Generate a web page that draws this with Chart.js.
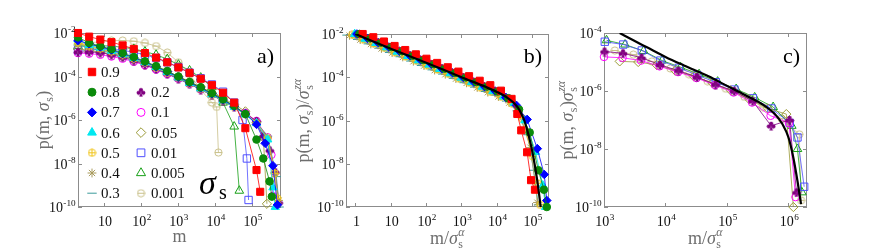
<!DOCTYPE html>
<html><head><meta charset="utf-8">
<script src="https://cdn.jsdelivr.net/npm/chart.js@4.4.1/dist/chart.umd.min.js"></script>
<style>
html,body{margin:0;padding:0;background:#fff;width:872px;height:251px;overflow:hidden}
canvas{position:absolute;top:0}
</style></head><body>
<canvas id="ca" width="290" height="251" style="left:0px"></canvas>
<canvas id="cb" width="290" height="251" style="left:290px"></canvas>
<canvas id="cc" width="327" height="251" style="left:545px"></canvas>
<script>
// ---------------- DATA ----------------
const sigmaLabels = ['0.9','0.8','0.7','0.6','0.5','0.4','0.3','0.2','0.1','0.05','0.01','0.005','0.001'];

// panel a) : p(m, sigma_s) vs m
const mBins = [2,4,8,16,32,64,128,256,512,1024,2048,4096,8192,16384,32768,65536,131072,262144];
const pA09 = [1.0e-2,6.8e-3,5.0e-3,3.8e-3,2.7e-3,1.86e-3,1.2e-3,7.4e-4,4.5e-4,2.6e-4,1.48e-4,7.9e-5,4.0e-5,1.8e-5,6.3e-6];
const tailA09 = [[65536,4.2e-7],[131072,5.0e-9],[165000,5.0e-10]];
const pA08 = [6.3e-3,3.5e-3,2.5e-3,1.8e-3,1.2e-3,7.9e-4,5.0e-4,3.0e-4,1.8e-4,1.0e-4,5.6e-5,3.2e-5,1.7e-5,8.9e-6,4.5e-6,1.9e-6,1.26e-7];
const tailA08 = [[200000,1.7e-8],[295000,1.5e-9],[340000,3.0e-10]];
const pA07 = [4.5e-3,3.2e-3,2.3e-3,1.66e-3,1.12e-3,7.4e-4,4.7e-4,2.8e-4,1.66e-4,9.3e-5,5.2e-5,3.0e-5,1.6e-5,8.3e-6,4.2e-6,1.9e-6,6.3e-7];
const tailA07 = [[224000,8.5e-8],[363000,7.9e-9],[480000,1.26e-10]];
const pA06 = [5.0e-3,2.8e-3,2.1e-3,1.5e-3,1.05e-3,7.1e-4,4.5e-4,2.7e-4,1.6e-4,8.9e-5,5.0e-5,2.8e-5,1.5e-5,7.9e-6,4.0e-6,1.8e-6,7.1e-7,1.26e-7];
const tailA06 = [[363000,7.9e-10],[420000,1.0e-10]];
const pA05 = [3.5e-3,2.5e-3,1.9e-3,1.4e-3,1.0e-3,6.8e-4,4.4e-4,2.7e-4,1.6e-4,8.9e-5,5.0e-5,2.75e-5,1.48e-5,7.9e-6,4.0e-6,1.8e-6,7.1e-7,1.4e-7];
const tailA05 = [[400000,3.5e-9],[480000,2.5e-10]];
const pA04 = [3.2e-3,2.4e-3,1.8e-3,1.3e-3,9.3e-4,6.3e-4,4.2e-4,2.5e-4,1.48e-4,8.5e-5,4.8e-5,2.7e-5,1.48e-5,7.9e-6,4.0e-6,1.86e-6,7.6e-7,1.6e-7];
const tailA04 = [[420000,3.5e-9],[520000,2.0e-10]];
const pA03 = [2.8e-3,2.1e-3,1.6e-3,1.2e-3,8.5e-4,5.9e-4,3.8e-4,2.3e-4,1.4e-4,7.9e-5,4.6e-5,2.5e-5,1.38e-5,7.4e-6,3.8e-6,1.8e-6,7.6e-7,1.8e-7];
const tailA03 = [[450000,2.5e-9],[540000,1.0e-10]];
const pA02 = [1.35e-3,1.35e-3,1.26e-3,1.0e-3,7.6e-4,5.4e-4,3.5e-4,2.2e-4,1.35e-4,7.9e-5,4.5e-5,2.5e-5,1.4e-5,7.6e-6,4.0e-6,2.0e-6,8.9e-7];
const tailA02 = [[200000,1.8e-7],[300000,4.0e-8],[420000,4.0e-9],[520000,1.6e-10]];
const pA01 = [1.2e-3,1.12e-3,1.0e-3,8.3e-4,6.6e-4,4.8e-4,3.3e-4,2.1e-4,1.3e-4,7.9e-5,4.6e-5,2.6e-5,1.48e-5,7.9e-6,4.2e-6,2.1e-6,8.9e-7,1.6e-7];
const tailA01 = [[330000,2.5e-8],[360000,3.2e-10]];
const pA005 = [1.8e-3,1.6e-3,1.3e-3,1.07e-3,8.3e-4,6.0e-4,4.2e-4,2.7e-4,1.66e-4,1.0e-4,5.8e-5,3.3e-5,1.8e-5,1.0e-5,5.2e-6,2.5e-6,7.9e-7];
const tailA005 = [[200000,1.6e-7],[250000,1.4e-10]];
const pA001 = [1.6e-3,1.66e-3,1.8e-3,1.8e-3,1.6e-3,1.3e-3,1.0e-3,7.1e-4,4.5e-4,2.7e-4,1.5e-4,8.3e-5,4.3e-5,2.0e-5,6.3e-6];
const tailA001 = [[55000,1.0e-6],[72000,1.7e-8],[80000,2.1e-10]];
const pA0005 = [2.5e-3,2.6e-3,2.6e-3,2.5e-3,2.2e-3,1.86e-3,1.4e-3,1.0e-3,6.3e-4,3.5e-4,1.9e-4,8.9e-5,3.2e-5,6.3e-6];
const tailA0005 = [[32768,5.0e-7],[45000,5.6e-10]];
const pA0001 = [3.2e-3,3.5e-3,4.0e-3,4.5e-3,4.5e-3,4.2e-3,3.5e-3,2.5e-3,1.26e-3,4.5e-4,1.26e-4,2.5e-5,6.3e-6];
const tailA0001 = [[11000,4.0e-6],[12300,3.2e-8]];

// panel b) : p/sigma^{z alpha} vs m/sigma^alpha  (sigma_s = 0.9 ... 0.3)
const xB09 = [1.6,3.2,6.4,12.8,25.6,51.2,102,205,410,819,1640,3280,6550,13100,26200,38000,49000,72000,93000,120000];
const pB09 = [1.0e-2,7.1e-3,4.5e-3,2.8e-3,1.82e-3,1.15e-3,7.2e-4,4.6e-4,2.9e-4,1.82e-4,1.12e-4,6.9e-5,4.3e-5,2.4e-5,1.0e-5,2.0e-6,3.5e-7,3.4e-8,1.74e-9,6.3e-10];
const xB08 = [1.3,2.6,5.2,10.4,20.8,41.6,83.2,166,333,666,1330,2660,5320,10600,21300,42600,85200,150000,215000,260000];
const pB08 = [1.0e-2,6.3e-3,4.0e-3,2.5e-3,1.6e-3,1.0e-3,6.3e-4,4.0e-4,2.5e-4,1.6e-4,9.8e-5,6.0e-5,3.7e-5,2.2e-5,1.07e-5,3.2e-6,2.8e-7,5.0e-9,6.3e-10,1.0e-10];
const xB07 = [1.1,2.2,4.4,8.8,17.6,35.2,70.4,141,282,563,1130,2250,4510,9010,18000,36000,72100,140000,220000,260000];
const pB07 = [1.0e-2,6.3e-3,4.0e-3,2.5e-3,1.6e-3,1.0e-3,6.3e-4,4.0e-4,2.5e-4,1.6e-4,9.8e-5,6.0e-5,3.7e-5,2.3e-5,1.17e-5,5.0e-6,1.12e-6,5.0e-8,3.2e-9,2.0e-10];
const xB06 = [0.95,1.9,3.8,7.6,15.2,30.4,60.8,122,243,486,973,1950,3890,7780,15600,31100,62300,125000,200000,240000];
const pB06 = [1.0e-2,6.0e-3,3.8e-3,2.4e-3,1.51e-3,9.5e-4,6.0e-4,3.8e-4,2.4e-4,1.51e-4,9.5e-5,5.9e-5,3.6e-5,2.24e-5,1.26e-5,6.3e-6,1.0e-6,3.5e-8,1.0e-9,1.0e-10];
const xB05 = [0.8,1.6,3.2,6.4,12.8,25.6,51.2,102,205,410,819,1640,3280,6550,13100,26200,52400,105000,140000,170000];
const pB05 = [9.1e-3,5.8e-3,3.6e-3,2.3e-3,1.45e-3,9.1e-4,5.8e-4,3.6e-4,2.3e-4,1.45e-4,9.1e-5,5.6e-5,3.5e-5,2.1e-5,1.26e-5,6.3e-6,1.26e-6,2.2e-8,1.26e-9,1.26e-10];
const xB04 = [0.68,1.36,2.72,5.44,10.9,21.8,43.5,87,174,348,696,1390,2790,5570,11100,22300,44600,89100,120000,140000];
const pB04 = [8.5e-3,5.4e-3,3.4e-3,2.1e-3,1.35e-3,8.5e-4,5.4e-4,3.4e-4,2.1e-4,1.35e-4,8.5e-5,5.4e-5,3.3e-5,2.0e-5,1.26e-5,6.6e-6,1.8e-6,5.6e-8,1.6e-9,1.6e-10];
const xB03 = [0.57,1.14,2.28,4.56,9.12,18.2,36.5,73,146,292,584,1170,2330,4670,9340,18700,37300,74700,110000,150000];
const pB03 = [8.9e-3,5.6e-3,3.5e-3,2.2e-3,1.4e-3,8.9e-4,5.6e-4,3.5e-4,2.2e-4,1.4e-4,8.9e-5,5.6e-5,3.5e-5,2.2e-5,1.48e-5,7.9e-6,2.8e-6,2.2e-7,5.0e-9,1.26e-10];
const xBfit = [1,10,100,1000,5000,1e4,2e4,3e4,4e4,5e4,6e4,8e4,1e5,1.2e5,1.4e5,1.6e5,1.8e5];
const pBfit = [1.0e-2,2.1e-3,4.7e-4,1.0e-4,3.5e-5,2.1e-5,1.12e-5,6.6e-6,3.8e-6,2.0e-6,1.0e-6,2.0e-7,4.0e-8,7.9e-9,1.6e-9,3.2e-10,6.3e-11];

// panel c) : p*sigma^{z alpha} vs m/sigma^alpha  (sigma_s = 0.2 ... 0.001)
const xC02 = [1020,2040,4080,8160,16300,32600,65300,131000,261000,522000,1040000,1350000];
const pC02 = [2.3e-5,2.0e-5,1.4e-5,7.9e-6,5.0e-6,3.0e-6,1.66e-6,1.0e-6,4.5e-7,6.3e-8,1.0e-7,3.2e-10];
const xC01 = [1000,2000,4000,8000,16000,32000,64000,128000,256000,512000,1020000,1300000];
const pC01 = [1.5e-5,1.4e-5,1.12e-5,7.1e-6,4.5e-6,2.8e-6,1.6e-6,8.9e-7,4.0e-7,1.4e-7,7.9e-8,2.2e-10];
const xC005 = [1800,3600,7200,14400,28800,57600,115000,230000,461000,922000,1200000];
const pC005 = [1.05e-5,1.0e-5,7.9e-6,5.0e-6,3.2e-6,1.9e-6,1.05e-6,5.2e-7,2.5e-7,1.6e-7,1.0e-10];
const xC001 = [1030,2060,4120,8240,16500,33000,65900,132000,264000,527000,1050000,1400000,1800000];
const pC001 = [5.0e-5,4.0e-5,2.5e-5,1.12e-5,6.3e-6,3.5e-6,2.0e-6,1.12e-6,5.6e-7,2.5e-7,7.9e-8,2.5e-8,5.0e-10];
const xC0005 = [1100,2200,4400,8800,17600,35200,70400,141000,282000,563000,1130000,1400000,1650000];
const pC0005 = [5.6e-5,4.0e-5,2.4e-5,1.12e-5,6.6e-6,3.8e-6,2.1e-6,1.17e-6,6.0e-7,2.8e-7,6.3e-8,1.0e-8,3.2e-10];
const xC0001 = [1500,3000,6000,12000,24000,48000,96000,192000,384000,768000,1500000,1600000];
const pC0001 = [2.5e-5,1.8e-5,1.05e-5,6.0e-6,3.8e-6,2.2e-6,1.2e-6,6.3e-7,2.8e-7,1.12e-7,3.2e-8,1.7e-10];
const xCfit = [1800,3000,5000,1e4,2e4,5e4,1e5,2e5,4e5,6e5,8e5,1e6,1.2e6,1.4e6,1.6e6];
const pCfit = [1.0e-4,5.6e-5,3.2e-5,1.5e-5,7.6e-6,3.2e-6,1.5e-6,7.1e-7,3.2e-7,1.6e-7,7.1e-8,2.5e-8,5.0e-9,7.9e-10,1.26e-10];

// tick values / labels
const aXTicks = [10,100,1e3,1e4,1e5];
const aXTickText = ['10','10^2','10^3','10^4','10^5'];
const bXTicks = [1,10,100,1e3,1e4,1e5];
const bXTickText = ['1','10','10^2','10^3','10^4','10^5'];
const cXTicks = [1e3,1e4,1e5,1e6];
const cXTickText = ['10^3','10^4','10^5','10^6'];
const abYTicks = [1e-2,1e-4,1e-6,1e-8,1e-10];
const abYTickText = ['10^-2','10^-4','10^-6','10^-8','10^-10'];
const cYTicks = [1e-4,1e-6,1e-8,1e-10];
const cYTickText = ['10^-4','10^-6','10^-8','10^-10'];

// ---------------- STYLE / HELPERS ----------------
const SERIF = '"Liberation Serif","Times New Roman",serif';
function mk(size, draw){ const c=document.createElement('canvas'); c.width=c.height=size; const g=c.getContext('2d'); draw(g,size/2); return c; }
const imgOplus = mk(9,(g,h)=>{ g.strokeStyle='#f0c419'; g.lineWidth=1; g.beginPath(); g.arc(h,h,3.6,0,Math.PI*2); g.moveTo(h-3.6,h); g.lineTo(h+3.6,h); g.moveTo(h,h-3.6); g.lineTo(h,h+3.6); g.stroke(); });
const imgOminus = mk(9,(g,h)=>{ g.strokeStyle='#c9c08a'; g.lineWidth=1; g.beginPath(); g.arc(h,h,3.6,0,Math.PI*2); g.moveTo(h-3.6,h); g.lineTo(h+3.6,h); g.stroke(); });
const imgClub = mk(10,(g,h)=>{ g.fillStyle='#800080'; g.beginPath(); g.arc(h,h-2.2,2.1,0,Math.PI*2); g.fill(); g.beginPath(); g.arc(h-2.3,h+0.6,2.1,0,Math.PI*2); g.fill(); g.beginPath(); g.arc(h+2.3,h+0.6,2.1,0,Math.PI*2); g.fill(); g.beginPath(); g.moveTo(h,h); g.lineTo(h-1.8,h+4.6); g.lineTo(h+1.8,h+4.6); g.closePath(); g.fill(); });

const ST = [
 {c:'#ff0000', ps:'rect', r:5, fill:true},
 {c:'#0a8a0a', ps:'circle', r:3.8, fill:true},
 {c:'#0000ff', ps:'rectRot', r:4.3, fill:true},
 {c:'#00e8f0', ps:'triangle', r:4.8, fill:true},
 {c:'#f0c419', ps:imgOplus},
 {c:'#a89a5c', ps:'star', r:4.2},
 {c:'#3a9a9a', ps:'line', r:4.5},
 {c:'#800080', ps:imgClub},
 {c:'#ff00ff', ps:'circle', r:3.8, fill:false},
 {c:'#999936', ps:'rectRot', r:4.6, fill:false},
 {c:'#4f4fff', ps:'rect', r:5.2, fill:false},
 {c:'#17a017', ps:'triangle', r:5, fill:false},
 {c:'#c9c08a', ps:imgOminus}
];

function pts(xs, ys, tail){ const out=[]; for(let i=0;i<ys.length;i++) out.push({x:xs[i],y:ys[i]}); (tail||[]).forEach(t=>out.push({x:t[0],y:t[1]})); return out; }
function ds(data, st){
  return { data, showLine:true, borderColor:st.c, borderWidth:0.8, backgroundColor:st.c,
    pointStyle:st.ps, pointRadius:st.r||4.5, pointBorderWidth:1, pointBorderColor:st.c,
    pointBackgroundColor: st.fill ? st.c : 'rgba(0,0,0,0)', clip:7 };
}
function fitDs(data){ return { data, showLine:true, borderColor:'#000', borderWidth:2.2, pointRadius:0, cubicInterpolationMode:'monotone', clip:0 }; }

function fnt(size,it){ return (it?'italic ':'')+size.toFixed(1)+'px '+SERIF; }
function pw(ctx,p,size){
  if(p.t!==undefined){ ctx.font=fnt(size,p.it); return ctx.measureText(p.t).width; }
  const ss=size*0.66; let w=0;
  if(p.sub){ ctx.font=fnt(ss,false); w=Math.max(w,ctx.measureText(p.sub).width); }
  if(p.sup){ ctx.font=fnt(ss,p.supIt); w=Math.max(w,ctx.measureText(p.sup).width); }
  return w+0.8;
}
function drawParts(ctx,parts,x,y,size,align,color){
  let w=0; parts.forEach(p=>w+=pw(ctx,p,size));
  let cx = align==='center'? x-w/2 : (align==='right'? x-w : x);
  ctx.fillStyle=color; ctx.textAlign='left'; ctx.textBaseline='alphabetic';
  for(const p of parts){
    const ww=pw(ctx,p,size);
    if(p.t!==undefined){ ctx.font=fnt(size,p.it); ctx.fillText(p.t,cx,y); }
    else { const ss=size*0.66;
      if(p.sub){ ctx.font=fnt(ss,false); ctx.fillText(p.sub,cx+0.4,y+size*0.24); }
      if(p.sup){ ctx.font=fnt(ss,p.supIt); ctx.fillText(p.sup,cx+0.4,y-size*0.42); }
    }
    cx+=ww;
  }
}
function tickParts(s){ const i=s.indexOf('^'); return i<0?[{t:s}]:[{t:s.slice(0,i)},{sup:s.slice(i+1)}]; }

function decor(L){
  return {
    id:'decor',
    beforeDatasetsDraw(chart){
      const ctx=chart.ctx, a=chart.chartArea, xs=chart.scales.x, ys=chart.scales.y;
      ctx.save(); ctx.strokeStyle='#8c8c8c'; ctx.lineWidth=1;
      ctx.strokeRect(Math.round(a.left)+0.5, Math.round(a.top)+0.5, Math.round(a.right-a.left)-1, Math.round(a.bottom-a.top)-1);
      ctx.beginPath();
      L.xTicks.forEach(v=>{ const x=Math.round(xs.getPixelForValue(v))+0.5; ctx.moveTo(x,a.bottom); ctx.lineTo(x,a.bottom-4); ctx.moveTo(x,a.top); ctx.lineTo(x,a.top+4); });
      L.yTicks.forEach(v=>{ const y=Math.round(ys.getPixelForValue(v))+0.5; ctx.moveTo(a.left,y); ctx.lineTo(a.left+4,y); ctx.moveTo(a.right,y); ctx.lineTo(a.right-4,y); });
      ctx.stroke(); ctx.restore();
    },
    afterDraw(chart){
      const ctx=chart.ctx, a=chart.chartArea, xs=chart.scales.x, ys=chart.scales.y;
      ctx.save();
      L.xTicks.forEach((v,i)=>drawParts(ctx,tickParts(L.xText[i]),xs.getPixelForValue(v)+1,a.bottom+19,14,'center','#111'));
      L.yTicks.forEach((v,i)=>drawParts(ctx,tickParts(L.yText[i]),a.left-2,ys.getPixelForValue(v)+5,14,'right','#111'));
      drawParts(ctx,L.xTitle,(a.left+a.right)/2,L.xTitleY,18,'center','#6e6e6e');
      ctx.save(); ctx.translate(L.yTitleX,(a.top+a.bottom)/2); ctx.rotate(-Math.PI/2);
      drawParts(ctx,L.yTitle,0,6,18,'center','#6e6e6e'); ctx.restore();
      drawParts(ctx,[{t:L.panel}],a.right-7,63,22,'right','#000');
      if(L.legend){
        sigmaLabels.forEach((lab,i)=>{
          const col = i<7?0:1, row = i<7?i:i-6;
          const mx = col===0?92:141, tx = col===0?101:151, y = 72+row*20.2;
          const st=ST[i];
          ctx.save();
          ctx.strokeStyle=st.c; ctx.fillStyle=st.fill?st.c:'rgba(0,0,0,0)'; ctx.lineWidth=1;
          Chart.helpers.drawPoint(ctx,{pointStyle:st.ps,radius:(st.r||4.5)*1.05,borderWidth:1,rotation:0},mx,y);
          ctx.restore();
          drawParts(ctx,[{t:lab}],tx,y+5,15,'left','#111');
        });
        drawParts(ctx,[{t:'σ',it:true}],199,194,34,'left','#000');
        drawParts(ctx,[{t:'s'}],219,199,20,'left','#000');
      }
      ctx.restore();
    }
  };
}

function build(id, datasets, L){
  return new Chart(document.getElementById(id), {
    type:'scatter', data:{datasets},
    options:{
      responsive:false, animation:false, devicePixelRatio:1, events:[],
      layout:{padding:{top:L.top,right:L.right,left:0,bottom:0}},
      plugins:{legend:{display:false},tooltip:{enabled:false}},
      scales:{
        x:{type:'logarithmic',min:L.xmin,max:L.xmax,grid:{display:false},border:{display:false},ticks:{display:false},
           afterBuildTicks:s=>{s.ticks=L.xTicks.map(v=>({value:v}));}, afterFit:s=>{s.height=L.xh;}},
        y:{type:'logarithmic',min:L.ymin,max:L.ymax,grid:{display:false},border:{display:false},ticks:{display:false},
           afterBuildTicks:s=>{s.ticks=L.yTicks.map(v=>({value:v}));}, afterFit:s=>{s.width=L.yw;}}
      }
    },
    plugins:[decor(L)]
  });
}

// ---------------- CHARTS ----------------
const dsA = [
  ds(pts(mBins,pA09,tailA09),ST[0]), ds(pts(mBins,pA08,tailA08),ST[1]), ds(pts(mBins,pA07,tailA07),ST[2]),
  ds(pts(mBins,pA06,tailA06),ST[3]), ds(pts(mBins,pA05,tailA05),ST[4]), ds(pts(mBins,pA04,tailA04),ST[5]),
  ds(pts(mBins,pA03,tailA03),ST[6]), ds(pts(mBins,pA02,tailA02),ST[7]), ds(pts(mBins,pA01,tailA01),ST[8]),
  ds(pts(mBins,pA005,tailA005),ST[9]), ds(pts(mBins,pA001,tailA001),ST[10]), ds(pts(mBins,pA0005,tailA0005),ST[11]),
  ds(pts(mBins,pA0001,tailA0001),ST[12])
];
build('ca', dsA, {top:33,right:9,xh:44,yw:78,xmin:2,xmax:6e5,ymin:1e-10,ymax:1e-2,
  xTicks:aXTicks,xText:aXTickText,yTicks:abYTicks,yText:abYTickText,
  xTitle:[{t:'m'}],xTitleY:242,yTitleX:43,
  yTitle:[{t:'p(m, '},{t:'σ',it:true},{sub:'s'},{t:')'}],panel:'a)',legend:true});

const dsB = [
  fitDs(pts(xBfit,pBfit)),
  ds(pts(xB09,pB09),ST[0]), ds(pts(xB08,pB08),ST[1]), ds(pts(xB07,pB07),ST[2]), ds(pts(xB06,pB06),ST[3]),
  ds(pts(xB05,pB05),ST[4]), ds(pts(xB04,pB04),ST[5]), ds(pts(xB03,pB03),ST[6])
];
build('cb', dsB, {top:34,right:31,xh:44,yw:56,xmin:0.54,xmax:3e5,ymin:1e-10,ymax:1e-2,
  xTicks:bXTicks,xText:bXTickText,yTicks:abYTicks,yText:abYTickText,
  xTitle:[{t:'m/'},{t:'σ',it:true},{sub:'s',sup:'α',supIt:true}],xTitleY:244,yTitleX:13,
  yTitle:[{t:'p(m, '},{t:'σ',it:true},{sub:'s'},{t:')/'},{t:'σ',it:true},{sub:'s',sup:'zα',supIt:true}],panel:'b)'});

const dsC = [
  fitDs(pts(xCfit,pCfit)),
  ds(pts(xC02,pC02),ST[7]), ds(pts(xC01,pC01),ST[8]), ds(pts(xC005,pC005),ST[9]),
  ds(pts(xC001,pC001),ST[10]), ds(pts(xC0005,pC0005),ST[11]), ds(pts(xC0001,pC0001),ST[12])
];
build('cc', dsC, {top:33,right:65,xh:44,yw:59,xmin:1e3,xmax:2e6,ymin:1e-10,ymax:1e-4,
  xTicks:cXTicks,xText:cXTickText,yTicks:cYTicks,yText:cYTickText,
  xTitle:[{t:'m/'},{t:'σ',it:true},{sub:'s',sup:'α',supIt:true}],xTitleY:244,yTitleX:22,
  yTitle:[{t:'p(m, '},{t:'σ',it:true},{sub:'s'},{t:')'},{t:'σ',it:true},{sub:'s',sup:'zα',supIt:true}],panel:'c)'});
</script></body></html>
